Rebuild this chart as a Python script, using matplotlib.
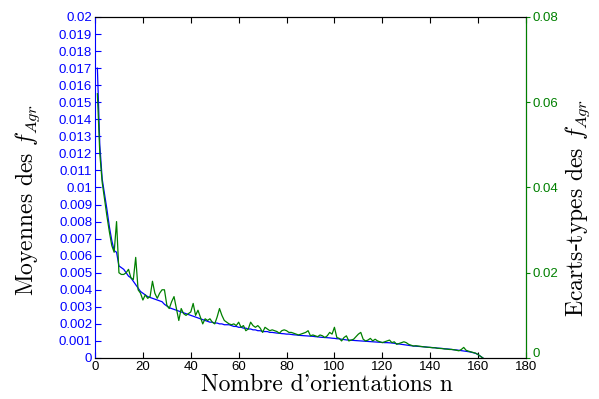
import numpy as np
import matplotlib
matplotlib.use('Agg')
import matplotlib.pyplot as plt
import matplotlib.transforms as mtransforms

plt.rcParams['mathtext.fontset'] = 'cm'
plt.rcParams['font.family'] = ['Liberation Sans', 'DejaVu Sans']

# nombre d'orientations
n = np.arange(1, 163)

# moyennes des f_Agr (axe gauche), en 1e-3
moy = np.array([
    17.0, 12.5, 10.5, 9.6, 8.7, 7.7, 6.9, 6.3, 6.2, 5.4,
    5.3, 5.2, 5.0, 4.8, 4.7, 4.5, 4.3, 4.1, 3.9, 3.8,
    3.7, 3.6, 3.55, 3.5, 3.45, 3.4, 3.35, 3.3, 3.15, 3.05,
    2.95, 2.9, 2.85, 2.8, 2.75, 2.7, 2.65, 2.6, 2.55, 2.5,
    2.45, 2.4, 2.35, 2.3, 2.25, 2.2, 2.15, 2.1, 2.1, 2.05,
    2.05, 2.0, 2.0, 1.95, 1.95, 1.95, 1.9, 1.85, 1.85, 1.8,
    1.8, 1.75, 1.75, 1.7, 1.7, 1.65, 1.65, 1.6, 1.6, 1.55,
    1.55, 1.55, 1.5, 1.5, 1.48, 1.46, 1.45, 1.43, 1.42, 1.4,
    1.4, 1.38, 1.36, 1.35, 1.33, 1.32, 1.31, 1.3, 1.29, 1.28,
    1.27, 1.25, 1.24, 1.22, 1.21, 1.2, 1.19, 1.18, 1.16, 1.15,
    1.13, 1.12, 1.1, 1.08, 1.06, 1.05, 1.04, 1.03, 1.02, 1.01,
    1.0, 0.99, 0.98, 0.97, 0.96, 0.95, 0.94, 0.93, 0.92, 0.91,
    0.9, 0.9, 0.89, 0.88, 0.86, 0.84, 0.82, 0.8, 0.78, 0.76,
    0.74, 0.72, 0.7, 0.69, 0.68, 0.67, 0.66, 0.65, 0.63, 0.62,
    0.61, 0.6, 0.58, 0.57, 0.56, 0.54, 0.53, 0.52, 0.5, 0.48,
    0.47, 0.45, 0.43, 0.41, 0.39, 0.37, 0.34, 0.31, 0.27, 0.2,
    0.1, 0.0]) * 1e-3

# ecarts-types des f_Agr (axe droit), en 1e-3
ecart = np.array([
    62.0, 48.0, 41.2, 37.2, 33.2, 29.6, 26.4, 24.8, 32.0, 20.0,
    19.6, 19.6, 20.0, 20.8, 18.8, 18.4, 23.6, 16.0, 15.2, 13.6,
    14.8, 14.0, 14.4, 18.0, 15.2, 14.0, 15.2, 16.0, 16.0, 12.4,
    11.6, 13.2, 14.4, 11.6, 8.8, 11.6, 10.4, 10.0, 10.4, 10.8,
    12.8, 10.0, 11.2, 9.6, 8.0, 9.2, 8.8, 9.2, 8.4, 8.0,
    9.6, 11.6, 10.0, 8.8, 8.4, 8.0, 7.8, 8.0, 7.6, 8.4,
    7.2, 7.6, 6.4, 6.8, 8.4, 7.6, 7.2, 7.6, 7.0, 6.0,
    7.2, 6.8, 6.4, 6.6, 6.4, 6.2, 5.8, 6.4, 6.6, 6.4,
    6.0, 6.0, 5.8, 5.6, 5.4, 5.6, 5.8, 6.0, 6.4, 5.2,
    5.4, 5.2, 5.0, 5.4, 5.2, 4.8, 5.2, 6.0, 5.6, 7.2,
    4.8, 4.6, 4.0, 4.8, 5.2, 4.0, 4.2, 4.4, 5.0, 5.6,
    6.0, 4.4, 4.0, 4.2, 4.6, 4.0, 4.4, 4.0, 3.8, 3.6,
    3.8, 4.0, 4.2, 3.6, 3.8, 3.2, 3.4, 3.6, 3.8, 3.6,
    3.2, 3.0, 2.8, 2.88, 2.8, 2.72, 2.64, 2.56, 2.52, 2.48,
    2.4, 2.4, 2.28, 2.24, 2.2, 2.12, 2.08, 2.0, 2.0, 1.92,
    1.8, 1.68, 2.0, 2.48, 1.8, 1.6, 1.44, 1.28, 1.12, 0.8,
    0.4, 0.0]) * 1e-3

gauche_ticks = np.arange(0, 0.0201, 0.001)
droite_ticks = [0, 0.02, 0.04, 0.06, 0.08]
x_ticks = np.arange(0, 181, 20)

vert = (0, 0.5, 0)

fig = plt.figure(figsize=(5.99, 3.99), dpi=100)
ax1 = fig.add_axes([0.1586, 0.1028, 0.7195, 0.8546])
ax1.plot(n, moy, color='b', lw=0.9)
ax1.set_xlim(0, 180)
ax1.set_ylim(0, 0.02)
ax1.set_xticks(x_ticks)
ax1.set_xticklabels([str(v) for v in x_ticks])
ax1.set_yticks(gauche_ticks)
ax1.set_yticklabels([f'{v:.3f}'.rstrip('0').rstrip('.') for v in gauche_ticks])
ax1.tick_params(axis='y', direction='in', colors='b', right=True, length=4,
                labelsize=9.5, pad=2)
ax1.tick_params(axis='x', direction='in', top=True, length=4, labelsize=9.5,
                pad=2)
ax1.spines['left'].set_color('b')

ax2 = ax1.twinx()
ax2.plot(n, ecart, color=vert, lw=0.9)
ax2.set_ylim(0, 0.08)
ax2.set_yticks(droite_ticks)
ax2.set_yticklabels([f'{v:.2f}'.rstrip('0').rstrip('.') for v in droite_ticks])
ax2.tick_params(axis='y', direction='out', colors=vert, length=3,
                labelsize=9.5, pad=2)
ax2.spines['left'].set_visible(False)
ax2.spines['right'].set_color(vert)

# le "0" vert remonte un peu pour ne pas chevaucher le "180"
decal = mtransforms.ScaledTranslation(0, 4 / 72, fig.dpi_scale_trans)
lbl0 = ax2.get_yticklabels()[0]
lbl0.set_transform(lbl0.get_transform() + decal)

fig.text(0.047, 0.5, r'Moyennes des $f_{Agr}$', rotation=90, ha='center',
         va='center', fontsize=17, family='cmr10')
fig.text(0.965, 0.48, r'Ecarts-types des $f_{Agr}$', rotation=90, ha='center',
         va='center', fontsize=17, family='cmr10')
fig.text(0.546, 0.035, "Nombre d'orientations n", ha='center', va='center',
         fontsize=17, family='cmr10')

plt.savefig('out.png', dpi=100)
